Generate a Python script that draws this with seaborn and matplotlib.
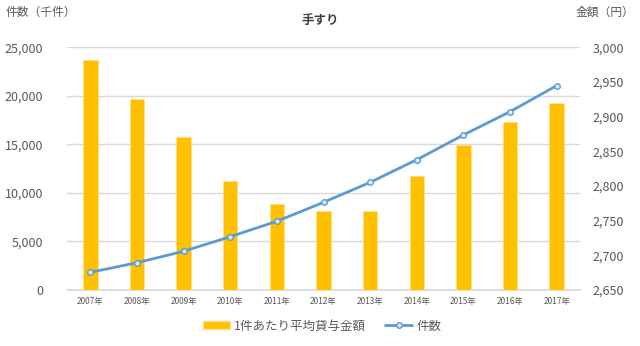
import matplotlib
matplotlib.use("Agg")
import matplotlib.pyplot as plt
import seaborn as sns
from matplotlib.ticker import FuncFormatter, MultipleLocator
from matplotlib.lines import Line2D
from matplotlib.patches import Patch

sns.set_theme(style="white")
plt.rcParams['font.family'] = ['Noto Sans CJK JP', 'DejaVu Sans']

years = ["2007年", "2008年", "2009年", "2010年", "2011年", "2012年",
         "2013年", "2014年", "2015年", "2016年", "2017年"]
avg_amount = [2982, 2925, 2871, 2807, 2774, 2764, 2764, 2814, 2859, 2892, 2920]
counts = [1820, 2810, 3990, 5490, 7080, 9030, 11090, 13420, 15970, 18370, 21050]

bar_label = "1件あたり平均貸与金額"
line_label = "件数"
title = "手すり"
left_label = "件数（千件）"
right_label = "金額（円）"

text_color = "#595959"
bar_color = "#FFC000"
line_color = "#5B9BD5"
grid_color = "#D9D9D9"

fig = plt.figure(figsize=(6.4, 3.46), dpi=100)
ax_grid = fig.add_axes([67/640, 1-290/346, (580-67)/640, (290-47.3)/346])
ax_bar = ax_grid.twinx()
ax_line = ax_grid.twinx()

# bars on right axis
sns.barplot(x=years, y=avg_amount, ax=ax_bar, color=bar_color, width=0.31,
            saturation=1, edgecolor="#FFE08A", linewidth=0.6)
ax_bar.set_ylim(2650, 3000)
ax_bar.yaxis.set_major_locator(MultipleLocator(50))
ax_bar.yaxis.set_major_formatter(FuncFormatter(lambda v, p: f"{int(v):,}"))
ax_bar.tick_params(axis="y", right=False, labelright=True, length=0, pad=9,
                   labelsize=9, labelcolor=text_color)
ax_bar.set_ylabel("")
ax_bar.set_xlabel("")

# line on left axis
sns.pointplot(x=years, y=counts, ax=ax_line, color=line_color, markers="o",
              markersize=4, linewidth=2, markerfacecolor="#DDEBF7",
              markeredgecolor=line_color, markeredgewidth=1)
ax_line.set_ylim(0, 25000)
ax_line.set_yticks([])
ax_line.set_ylabel("")

# grid / left axis
ax_grid.set_ylim(0, 25000)
ax_grid.yaxis.set_major_locator(MultipleLocator(5000))
ax_grid.yaxis.set_major_formatter(FuncFormatter(lambda v, p: f"{int(v):,}"))
ax_grid.grid(axis="y", color=grid_color, linewidth=1)
ax_grid.tick_params(axis="y", left=False, length=0, pad=17, labelsize=9,
                    labelcolor=text_color)
ax_grid.set_xlim(-0.5, len(years) - 0.5)
ax_bar.set_xlim(-0.5, len(years) - 0.5)
ax_grid.set_xticks(range(len(years)))
ax_grid.set_xticklabels(years)
ax_grid.tick_params(axis="x", length=0, pad=5, labelsize=6, labelcolor=text_color)
ax_bar.tick_params(axis="x", bottom=False, labelbottom=False)
ax_line.tick_params(axis="x", bottom=False, labelbottom=False)

for a in (ax_grid, ax_bar, ax_line):
    for s in a.spines.values():
        s.set_visible(False)
ax_grid.spines["bottom"].set_visible(True)
ax_grid.spines["bottom"].set_color(grid_color)

fig.text(320/640, 1-20/346, title, ha="center", va="center", fontsize=9,
         fontweight="bold", color="#404040")
fig.text(6/640, 1-12/346, left_label, ha="left", va="center", fontsize=8.5,
         color=text_color)
fig.text(634/640, 1-12/346, right_label, ha="right", va="center", fontsize=8.5,
         color=text_color)

handles = [Patch(facecolor=bar_color, edgecolor="#FFE08A", label=bar_label),
           Line2D([0], [0], color=line_color, lw=2, marker="o", markersize=4,
                  markerfacecolor="#DDEBF7", markeredgecolor=line_color,
                  label=line_label)]
fig.legend(handles=handles, loc="center", bbox_to_anchor=(322/640, 1-326/346),
           ncol=2, frameon=False, fontsize=9, labelcolor=text_color,
           handlelength=2.2, handleheight=0.6, columnspacing=1.5, handletextpad=0.3)

fig.savefig("out.png", dpi=100)
